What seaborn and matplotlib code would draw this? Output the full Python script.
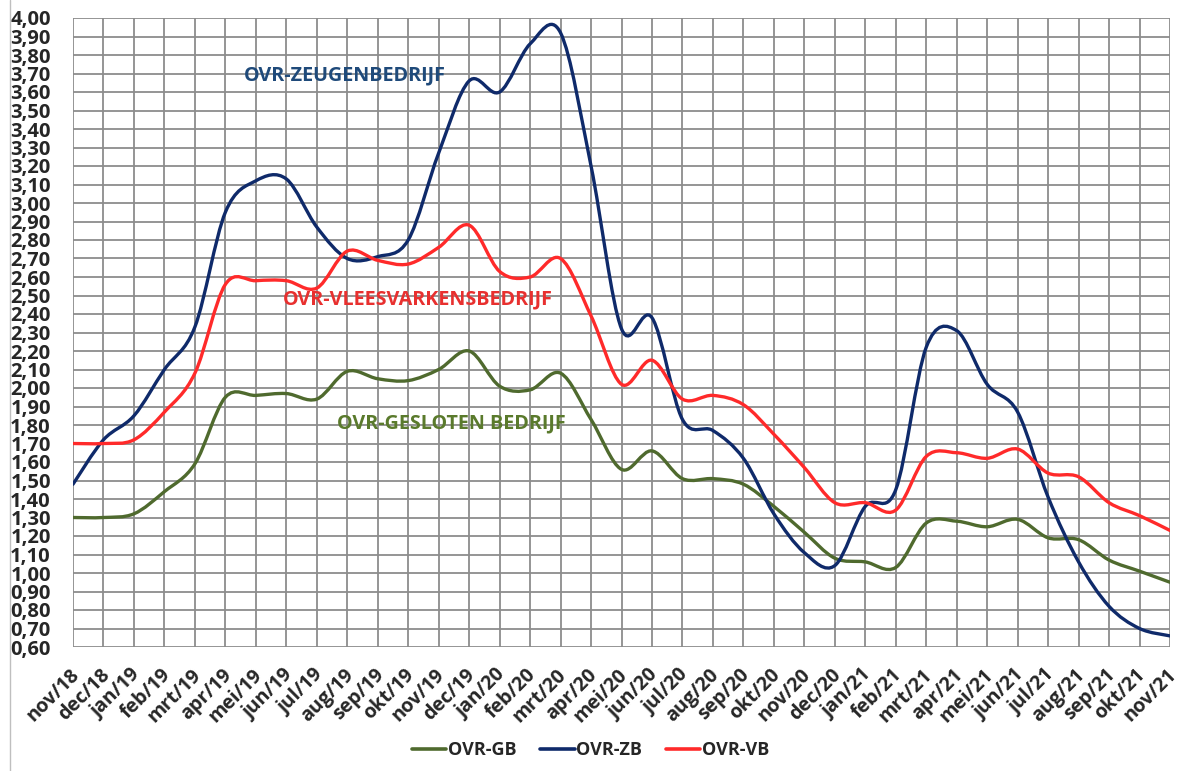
import numpy as np
import pandas as pd
import matplotlib
matplotlib.use("Agg")
import matplotlib.pyplot as plt
import matplotlib.transforms as mtransforms
from matplotlib.path import Path
from matplotlib.patches import PathPatch
from matplotlib.lines import Line2D
import seaborn as sns

maanden = ["nov/18", "dec/18", "jan/19", "feb/19", "mrt/19", "apr/19", "mei/19", "jun/19",
           "jul/19", "aug/19", "sep/19", "okt/19", "nov/19", "dec/19", "jan/20", "feb/20",
           "mrt/20", "apr/20", "mei/20", "jun/20", "jul/20", "aug/20", "sep/20", "okt/20",
           "nov/20", "dec/20", "jan/21", "feb/21", "mrt/21", "apr/21", "mei/21", "jun/21",
           "jul/21", "aug/21", "sep/21", "okt/21", "nov/21"]

ovr_gb = [1.30, 1.30, 1.32, 1.44, 1.59, 1.95, 1.96, 1.97, 1.94, 2.09, 2.05, 2.04, 2.10,
          2.20, 2.01, 1.99, 2.08, 1.83, 1.56, 1.66, 1.51, 1.51, 1.48, 1.36, 1.22, 1.08,
          1.06, 1.03, 1.27, 1.28, 1.25, 1.29, 1.19, 1.18, 1.07, 1.01, 0.95]
ovr_zb = [1.48, 1.72, 1.85, 2.10, 2.33, 2.95, 3.12, 3.13, 2.87, 2.70, 2.71, 2.80, 3.27,
          3.66, 3.60, 3.86, 3.92, 3.20, 2.32, 2.38, 1.83, 1.77, 1.62, 1.32, 1.11, 1.04,
          1.36, 1.45, 2.22, 2.31, 2.02, 1.87, 1.41, 1.06, 0.82, 0.70, 0.66]
ovr_vb = [1.70, 1.70, 1.72, 1.87, 2.08, 2.56, 2.58, 2.58, 2.54, 2.74, 2.69, 2.67, 2.76,
          2.88, 2.63, 2.60, 2.70, 2.39, 2.02, 2.15, 1.94, 1.96, 1.91, 1.75, 1.57, 1.38,
          1.38, 1.34, 1.63, 1.65, 1.62, 1.67, 1.54, 1.52, 1.38, 1.31, 1.23]

reeksen = ["OVR-GB", "OVR-ZB", "OVR-VB"]
kleuren = {"OVR-GB": "#4f6a2e", "OVR-ZB": "#0f2a6a", "OVR-VB": "#ff2a2a"}

df = pd.DataFrame({"maand": np.arange(len(maanden)),
                   "OVR-GB": ovr_gb, "OVR-ZB": ovr_zb, "OVR-VB": ovr_vb})
df_long = df.melt(id_vars="maand", var_name="reeks", value_name="waarde")

sns.set_style("white")
plt.rcParams["font.family"] = ["Open Sans", "DejaVu Sans"]

fig = plt.figure(figsize=(11.79, 7.71), dpi=100)
ax = fig.add_axes([73 / 1179, 1 - 647 / 771, (1170 - 73) / 1179, (647 - 18) / 771])

sns.lineplot(data=df_long, x="maand", y="waarde", hue="reeks", hue_order=reeksen,
             palette=kleuren, linewidth=2.3, legend=False, ax=ax)

# gladde lijnen zoals in Excel: Bezier door de punten, de rechte lijnen verbergen
for line in ax.get_lines():
    line.set_visible(False)


def smooth_path(x, y):
    pts = np.column_stack([x, y]).astype(float)
    verts = [pts[0]]
    codes = [Path.MOVETO]
    n = len(pts)
    for i in range(n - 1):
        p0 = pts[max(i - 1, 0)]
        p1 = pts[i]
        p2 = pts[i + 1]
        p3 = pts[min(i + 2, n - 1)]
        c1 = p1 + (p2 - p0) / 6
        c2 = p2 - (p3 - p1) / 6
        verts += [c1, c2, p2]
        codes += [Path.CURVE4] * 3
    return Path(verts, codes)


for naam in reeksen:
    patch = PathPatch(smooth_path(df["maand"], df[naam]), facecolor="none",
                      edgecolor=kleuren[naam], linewidth=2.4, capstyle="round", zorder=3)
    ax.add_patch(patch)

ax.set_xlim(0, len(maanden) - 1)
ax.set_ylim(0.6, 4.0)
ax.set_xticks(range(len(maanden)))
ax.set_xticklabels(maanden, rotation=45, ha="right", rotation_mode="anchor",
                   fontsize=14, fontweight="bold")
yt = np.round(np.arange(0.6, 4.001, 0.1), 2)
ax.set_yticks(yt)
ax.set_yticklabels([f"{v:.2f}".replace(".", ",") for v in yt], fontsize=14.5, fontweight="bold")
ax.tick_params(axis="both", length=7, width=1.3, color="#8c8c8c")
ax.tick_params(axis="y", pad=9)
ax.tick_params(axis="x", pad=6)
# labels een paar pixels naar links zodat nov/21 binnen het beeld valt
shift = mtransforms.ScaledTranslation(-4 / 100, 0, fig.dpi_scale_trans)
for lbl in ax.get_xticklabels():
    lbl.set_transform(lbl.get_transform() + shift)
ax.grid(True, color="#8c8c8c", linewidth=1.3)
ax.set_axisbelow(True)
for s in ax.spines.values():
    s.set_visible(False)
ax.set_xlabel("")
ax.set_ylabel("")

ax.text(8.93, 3.69, "OVR-ZEUGENBEDRIJF", color="#1f4a7a", fontsize=14.2, fontweight="bold",
        ha="center", va="center")
ax.text(11.3, 2.48, "OVR-VLEESVARKENSBEDRIJF", color="#e8302f", fontsize=14.2, fontweight="bold",
        ha="center", va="center")
ax.text(12.4, 1.81, "OVR-GESLOTEN BEDRIJF", color="#5a7a2c", fontsize=14.2, fontweight="bold",
        ha="center", va="center")

handles = [Line2D([], [], color=kleuren[r], linewidth=2.6) for r in reeksen]
ax.legend(handles, reeksen, loc="center", bbox_to_anchor=(0.501, 0.027),
          bbox_transform=fig.transFigure, ncol=3, frameon=False, handlelength=1.9,
          handletextpad=0.1, columnspacing=1.3,
          prop={"size": 13, "weight": "bold"})

fig.add_artist(Line2D([10 / 1179, 10 / 1179], [0, 1], color="#bfbfbf", linewidth=1))

fig.savefig("out.png", dpi=100)
